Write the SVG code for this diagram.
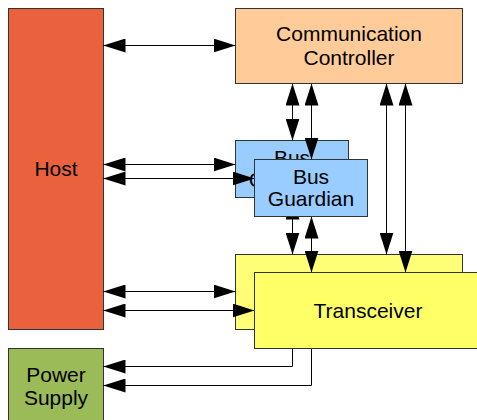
<svg xmlns="http://www.w3.org/2000/svg" width="477" height="420" viewBox="0 0 477 420">
  <style>
    .box { stroke: #333; stroke-width: 1; }
    .host { fill: #E9613D; }
    .power { fill: #9BBB59; }
    .cc { fill: #FFCC99; }
    .bg { fill: #99CCFF; }
    .tr-back { fill: #FFFF77; }
    .tr { fill: #FFFF66; }
    .lbl { font-family: "Liberation Sans", Arial, sans-serif; font-size: 21px; fill: #000; text-anchor: middle; }
    .link { fill: none; stroke: #000; stroke-width: 1; marker-start: url(#head); marker-end: url(#head); }
    .feed { fill: none; stroke: #000; stroke-width: 1; marker-end: url(#head); }
  </style>
  <defs>
    <marker id="head" markerUnits="userSpaceOnUse" markerWidth="22" markerHeight="14" refX="22" refY="7" orient="auto-start-reverse">
      <path d="M0,0 L22,7 L0,14 z" fill="#000"/>
    </marker>
    <!-- the part of the rear guardian that is not covered by the front one -->
    <clipPath id="rear-guardian-visible">
      <path d="M235,140 H349 V159 H254 V198 H235 z"/>
    </clipPath>
  </defs>

  <rect width="477" height="420" fill="#fff"/>

  <g id="host">
    <rect class="box host" x="8.5" y="8.5" width="95" height="321"/>
    <text class="lbl" x="56" y="176">Host</text>
  </g>

  <g id="power-supply">
    <rect class="box power" x="8.5" y="348.5" width="95" height="80"/>
    <text class="lbl" x="56" y="382">Power</text>
    <text class="lbl" x="56" y="405">Supply</text>
  </g>

  <g id="communication-controller">
    <rect class="box cc" x="235.5" y="8.5" width="227" height="75"/>
    <text class="lbl" x="349" y="41">Communication</text>
    <text class="lbl" x="349" y="65">Controller</text>
  </g>

  <!-- second channel: guardian and driver sit behind the first channel -->
  <g id="bus-guardian-b">
    <rect class="box bg" x="235.5" y="140.5" width="113" height="57"/>
    <g clip-path="url(#rear-guardian-visible)">
      <text class="lbl" x="292" y="164.5">Bus</text>
      <text class="lbl" x="292" y="187">Guardian</text>
    </g>
  </g>

  <g id="bus-driver-b">
    <rect class="box tr-back" x="235.5" y="254.5" width="227" height="75"/>
    <text class="lbl" x="349" y="287.5">Bus</text>
  </g>

  <g id="connectors">
    <!-- host links -->
    <line class="link" x1="103.5" y1="45.5" x2="235.5" y2="45.5"/>
    <line class="link" x1="103.5" y1="164.5" x2="235.5" y2="164.5"/>
    <line class="link" x1="103.5" y1="178.5" x2="254.5" y2="178.5"/>
    <line class="link" x1="103.5" y1="291.5" x2="235.5" y2="291.5"/>
    <line class="link" x1="103.5" y1="310.5" x2="254.5" y2="310.5"/>
    <!-- controller to guardians -->
    <line class="link" x1="292.5" y1="83.5" x2="292.5" y2="140.5"/>
    <line class="link" x1="311.5" y1="83.5" x2="311.5" y2="159.5"/>
    <!-- controller to drivers -->
    <line class="link" x1="386.5" y1="83.5" x2="386.5" y2="254.5"/>
    <line class="link" x1="405.5" y1="83.5" x2="405.5" y2="272.5"/>
    <!-- guardians to drivers -->
    <line class="link" x1="292.5" y1="197.5" x2="292.5" y2="254.5"/>
    <line class="link" x1="311.5" y1="216.5" x2="311.5" y2="272.5"/>
    <!-- drivers to power supply -->
    <path class="feed" d="M292.5,329.5 V366.5 H103.5"/>
    <path class="feed" d="M311.5,348.5 V385.5 H103.5"/>
  </g>

  <g id="bus-guardian">
    <rect class="box bg" x="254.5" y="159.5" width="113" height="57"/>
    <text class="lbl" x="311" y="183.5">Bus</text>
    <text class="lbl" x="311" y="206">Guardian</text>
  </g>

  <g id="transceiver">
    <rect class="box tr" x="254.5" y="272.5" width="227" height="76"/>
    <text class="lbl" x="368" y="318">Transceiver</text>
  </g>
</svg>
